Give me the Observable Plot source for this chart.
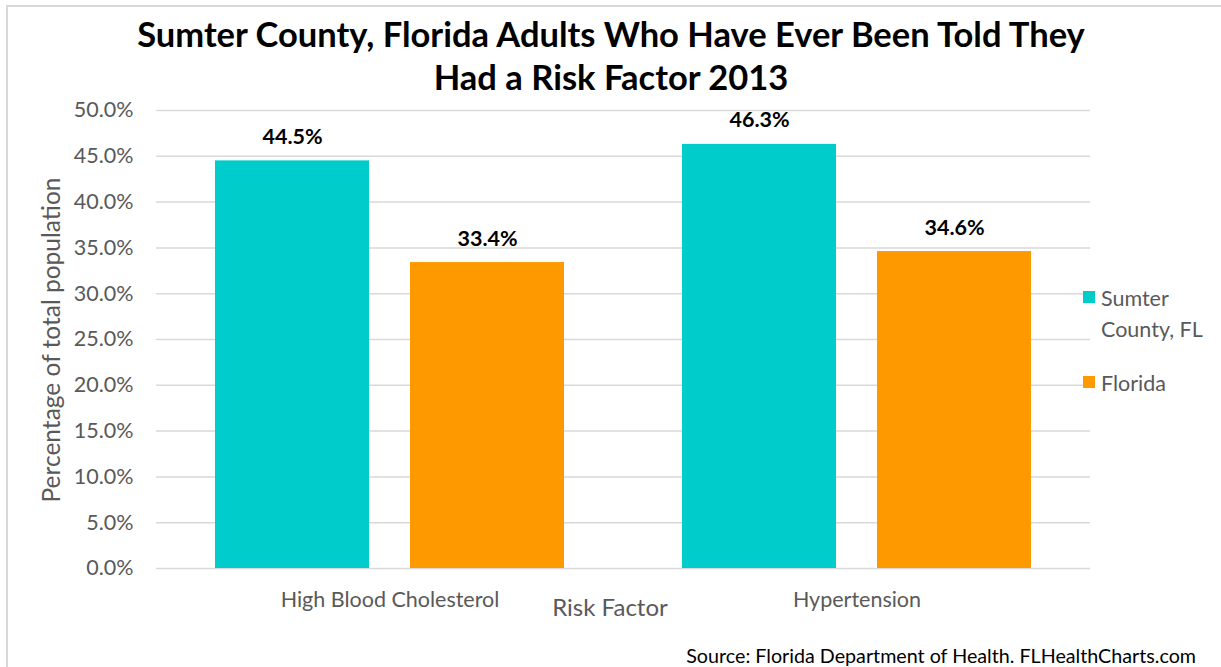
<!DOCTYPE html>
<html>
<head>
<meta charset="utf-8">
<script src="https://cdn.jsdelivr.net/npm/d3@7"></script>
<script src="https://cdn.jsdelivr.net/npm/@observablehq/plot@0.6"></script>
<style>
  html, body { margin: 0; padding: 0; background: #fff; }
  #wrap { position: relative; width: 1221px; height: 667px; overflow: hidden; font-family: Lato, "Open Sans", sans-serif; }
  #frame { position: absolute; left: 6px; top: 5px; width: 1300px; height: 800px; border-left: 2px solid #d9d9d9; border-top: 2px solid #d9d9d9; }
  #title { position: absolute; left: 0; width: 1222px; top: 12px; text-align: center; font-weight: bold; font-size: 34.5px; line-height: 43px; color: #000; }
  #chart { position: absolute; left: 0; top: 80px; }
  #ylabel { position: absolute; left: 50px; top: 340px; transform: translate(-50%, -50%) rotate(-90deg); white-space: nowrap; font-size: 24.5px; color: #595959; }
  #xlabel { position: absolute; left: 610px; top: 606px; transform: translate(-50%, -50%); white-space: nowrap; font-size: 24px; color: #595959; }
  #legend { position: absolute; left: 1083px; top: 283px; font-size: 21.5px; color: #595959; line-height: 31px; }
  .li { position: relative; padding-left: 18px; }
  .sw { position: absolute; left: 0; top: 8px; width: 12px; height: 12px; }
  #source { position: absolute; right: 25px; top: 644px; font-size: 19.7px; color: #000; white-space: nowrap; }
</style>
</head>
<body>
<div id="wrap">
  <div id="frame"></div>
  <div id="title">Sumter County, Florida Adults Who Have Ever Been Told They<br>Had a Risk Factor 2013</div>
  <div id="chart"></div>
  <div id="ylabel">Percentage of total population</div>
  <div id="xlabel">Risk Factor</div>
  <div id="legend"></div>
  <div id="source">Source: Florida Department of Health. FLHealthCharts.com</div>
</div>
<script>
const categories = ["High Blood Cholesterol", "Hypertension"];
const seriesNames = ["Sumter County, FL", "Florida"];
const sumterValues = [44.5, 46.3];
const floridaValues = [33.4, 34.6];
const colors = ["#00CCCC", "#FF9900"];
const yTicks = [0, 5, 10, 15, 20, 25, 30, 35, 40, 45, 50];

const data = [];
categories.forEach((c, i) => {
  data.push({category: c, series: seriesNames[0], value: sumterValues[i]});
  data.push({category: c, series: seriesNames[1], value: floridaValues[i]});
});

const chart = Plot.plot({
  width: 1221,
  height: 587,
  marginTop: 30,
  marginBottom: 99,
  marginLeft: 155,
  marginRight: 131,
  style: { fontFamily: "Lato, 'Open Sans', sans-serif", background: "transparent" },
  fx: { domain: categories, padding: 0, label: null },
  x: { domain: seriesNames, paddingInner: 0.209, paddingOuter: 0.296, axis: null },
  y: { domain: [0, 50], label: null },
  color: { domain: seriesNames, range: colors },
  marks: [
    Plot.gridY(yTicks, { stroke: "#d9d9d9", strokeOpacity: 1, strokeWidth: 1.5 }),
    Plot.axisY(yTicks, {
      tickSize: 0, tickPadding: 23, label: null,
      tickFormat: d => d.toFixed(1) + "%",
      fontSize: 21.5, fill: "#595959"
    }),
    Plot.axisFx({
      anchor: "bottom", tickSize: 0, tickPadding: 23, label: null,
      fontSize: 21.5, fill: "#595959"
    }),
    Plot.barY(data, { fx: "category", x: "series", y: "value", fill: "series" }),
    Plot.text(data, {
      fx: "category", x: "series", y: "value",
      text: d => d.value.toFixed(1) + "%",
      lineAnchor: "bottom", dy: -17,
      fontSize: 21.5, fontWeight: "bold", fill: "#000"
    })
  ]
});
document.getElementById("chart").appendChild(chart);

const legend = document.getElementById("legend");
const legendLines = [["Sumter", "County, FL"], ["Florida"]];
seriesNames.forEach((s, i) => {
  const div = document.createElement("div");
  div.className = "li";
  if (i > 0) div.style.marginTop = "23px";
  const sw = document.createElement("span");
  sw.className = "sw";
  sw.style.background = colors[i];
  div.appendChild(sw);
  legendLines[i].forEach((t, j) => {
    if (j > 0) div.appendChild(document.createElement("br"));
    div.appendChild(document.createTextNode(t));
  });
  legend.appendChild(div);
});
</script>
</body>
</html>
